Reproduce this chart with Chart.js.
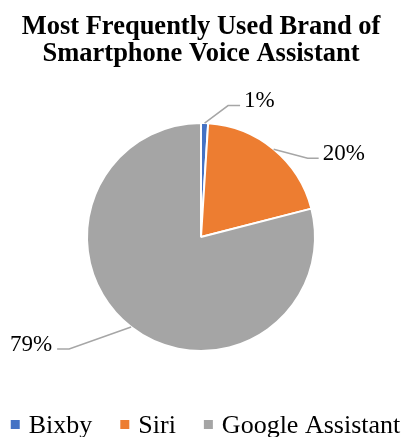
<!DOCTYPE html>
<html>
<head>
<meta charset="utf-8">
<script src="https://cdn.jsdelivr.net/npm/chart.js@4"></script>
<style>
  html, body { margin: 0; padding: 0; background: #ffffff; overflow: hidden; }
  #wrap { width: 405px; height: 437px; position: relative; }
  canvas { display: block; }
</style>
</head>
<body>
<div id="wrap"><canvas id="c" width="405" height="437"></canvas></div>
<script>
// ---- data ----
const titleLines = ['Most Frequently Used Brand of', 'Smartphone Voice Assistant'];
const categories = ['Bixby', 'Siri', 'Google Assistant'];
const shares = [1, 20, 79];
const percentLabels = ['1%', '20%', '79%'];
const sliceColors = ['#4472C4', '#ED7D31', '#A5A5A5'];

// ---- layout / style for data labels (leader line elbows, relative to slice edge) ----
const labelLayout = [
  { dx: 23.5, dy: -17.5, run: 12 },
  { dx: 34, dy: 9, run: 11 },
  { dx: -62, dy: 22, run: -12 }
];
const SERIF = "'Liberation Serif', 'Times New Roman', serif";

const leaderLabels = {
  id: 'leaderLabels',
  afterDatasetsDraw(chart) {
    const ctx = chart.ctx;
    const meta = chart.getDatasetMeta(0);
    ctx.save();
    ctx.font = '23px ' + SERIF;
    ctx.fillStyle = '#000000';
    ctx.strokeStyle = '#A6A6A6';
    ctx.lineWidth = 1.5;
    meta.data.forEach((arc, i) => {
      const p = arc.getProps(['x', 'y', 'startAngle', 'endAngle', 'outerRadius'], true);
      const mid = (p.startAngle + p.endAngle) / 2;
      const sx = p.x + Math.cos(mid) * p.outerRadius;
      const sy = p.y + Math.sin(mid) * p.outerRadius;
      const L = labelLayout[i];
      const ex = sx + L.dx, ey = sy + L.dy;
      const hx = ex + L.run;
      ctx.beginPath();
      ctx.moveTo(sx, sy);
      ctx.lineTo(ex, ey);
      ctx.lineTo(hx, ey);
      ctx.stroke();
      ctx.textBaseline = 'alphabetic';
      if (L.run >= 0) {
        ctx.textAlign = 'left';
        ctx.fillText(percentLabels[i], hx + 4, ey + 1.5);
      } else {
        ctx.textAlign = 'right';
        ctx.fillText(percentLabels[i], hx - 5, ey + 1.5);
      }
    });
    ctx.restore();
  }
};

const bottomLegend = {
  id: 'bottomLegend',
  afterDraw(chart) {
    const ctx = chart.ctx;
    ctx.save();
    ctx.font = '26px ' + SERIF;
    const box = 9, gap = 9, spacing = 28;
    const widths = categories.map(t => box + gap + ctx.measureText(t).width);
    const total = widths.reduce((a, b) => a + b, 0) + spacing * (categories.length - 1);
    let x = (chart.width - total) / 2 + 3;
    const baseY = 433;
    ctx.textAlign = 'left';
    ctx.textBaseline = 'alphabetic';
    categories.forEach((t, i) => {
      ctx.fillStyle = sliceColors[i];
      ctx.fillRect(x, baseY - 13, box, box);
      ctx.fillStyle = '#000000';
      ctx.fillText(t, x + box + gap, baseY);
      x += widths[i] + spacing;
    });
    ctx.restore();
  }
};

new Chart(document.getElementById('c'), {
  type: 'pie',
  data: {
    labels: categories,
    datasets: [{
      data: shares,
      backgroundColor: sliceColors,
      borderColor: '#ffffff',
      borderWidth: 2,
      hoverOffset: 0,
      offset: 0
    }]
  },
  options: {
    responsive: false,
    animation: false,
    devicePixelRatio: 1,
    layout: { padding: { top: 0, bottom: 85, left: 0, right: 3 } },
    plugins: {
      legend: { display: false },
      tooltip: { enabled: false },
      title: {
        display: true,
        text: titleLines,
        color: '#000000',
        font: { family: SERIF, size: 26.5, weight: 'bold', lineHeight: 1.02 },
        padding: { top: 13.5, bottom: 54.44 }
      }
    }
  },
  plugins: [leaderLabels, bottomLegend]
});
</script>
</body>
</html>
